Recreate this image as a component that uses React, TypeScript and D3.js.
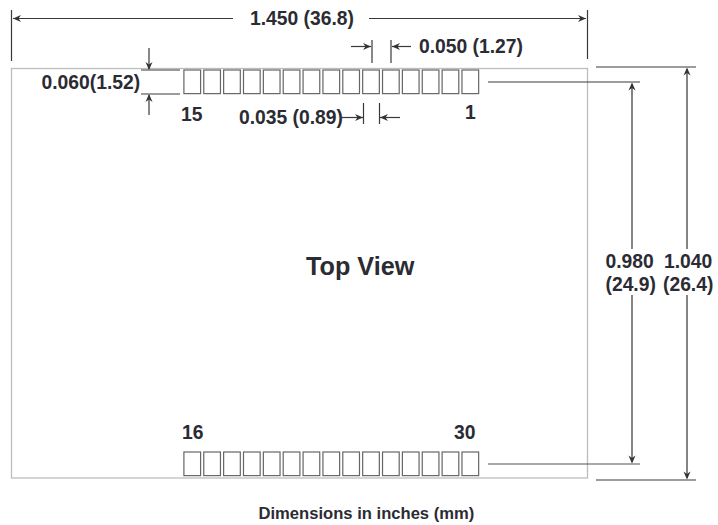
import React from "react";
import * as d3 from "d3";

// Physical values, in inches
const boardWidth = 1.45;
const boardHeight = 1.04;
const padPitch = 0.05;
const padWidth = 0.042;
const padHeight = 0.06;
const padCount = 15;
const firstPadOffset = 0.434;
const pinLabelsTop = ["15", "1"];
const pinLabelsBottom = ["16", "30"];
const widthLabel = "1.450 (36.8)";
const pitchLabel = "0.050 (1.27)";
const padWidthLabel = "0.035 (0.89)";
const padHeightLabel = "0.060(1.52)";
const innerLabel = ["0.980", "(24.9)"];
const outerLabel = ["1.040", "(26.4)"];
const title = "Top View";
const caption = "Dimensions in inches (mm)";

const INK = "#2b2b33";
const LINE = "#3a3a3a";
const VLINE = "#777777";

const x = d3.scaleLinear().domain([0, boardWidth]).range([11.5, 587.5]);
const y = d3.scaleLinear().domain([0, boardHeight]).range([68.5, 478]);
const padIdx = d3.range(padCount);

type P = [number, number];
const Arrow = ({ tip, dir, c = "#333" }: { tip: P; dir: "l" | "r" | "u" | "d"; c?: string }) => {
  const [a, b] = tip;
  const L = 8, W = 3.5;
  const pts =
    dir === "l" ? [[a, b], [a + L, b - W], [a + L - 2.5, b], [a + L, b + W]] :
    dir === "r" ? [[a, b], [a - L, b - W], [a - L + 2.5, b], [a - L, b + W]] :
    dir === "u" ? [[a, b], [a - W, b + L], [a, b + L - 2.5], [a + W, b + L]] :
    [[a, b], [a - W, b - L], [a, b - L + 2.5], [a + W, b - L]];
  return <polygon points={pts.map((p) => p.join(",")).join(" ")} fill={c} />;
};

const Seg = ({ x1, y1, x2, y2, c = LINE, w = 1.2 }: any) => (
  <line x1={x1} y1={y1} x2={x2} y2={y2} stroke={c} strokeWidth={w} />
);

const T = ({ x, y, s = 19.3, a = "start", children }: any) => (
  <text x={x} y={y} fontSize={s} textAnchor={a} fontWeight="bold" fill={INK} fontFamily="'Liberation Sans', Arial, sans-serif">
    {children}
  </text>
);

export default function App() {
  const padX = (i: number) => x(firstPadOffset + i * padPitch);
  const padW = x(padWidth) - x(0);
  const padH = y(padHeight) - y(0);
  const rows = [70, 452];
  return (
    <svg width={718} height={525} style={{ position: "absolute", left: 0, top: 0, background: "#fff" }}>
      <rect x={x(0)} y={y(0)} width={x(boardWidth) - x(0)} height={y(boardHeight) - y(0)} fill="none" stroke="#bdbdbd" strokeWidth={1.3} />
      {rows.map((ry) =>
        padIdx.map((i) => (
          <rect key={`${ry}-${i}`} x={padX(i)} y={ry} width={padW} height={padH} fill="#fff" stroke="#666" strokeWidth={1.2} />
        ))
      )}

      {/* overall width */}
      <Seg x1={11.5} y1={10} x2={11.5} y2={61} />
      <Seg x1={587.5} y1={10} x2={587.5} y2={59} />
      <Seg x1={13} y1={18.5} x2={233} y2={18.5} />
      <Seg x1={369} y1={18.5} x2={586} y2={18.5} />
      <Arrow tip={[13, 18.5]} dir="l" />
      <Arrow tip={[586, 18.5]} dir="r" />
      <T x={250} y={25}>{widthLabel}</T>

      {/* pitch */}
      <Seg x1={372} y1={40} x2={372} y2={63} />
      <Seg x1={391} y1={40} x2={391} y2={63} />
      <Seg x1={351} y1={46.5} x2={371} y2={46.5} />
      <Seg x1={392} y1={46.5} x2={411} y2={46.5} />
      <Arrow tip={[371, 46.5]} dir="r" />
      <Arrow tip={[392, 46.5]} dir="l" />
      <T x={419} y={53}>{pitchLabel}</T>

      {/* pad height */}
      <Seg x1={141} y1={70} x2={180} y2={70} />
      <Seg x1={141} y1={94} x2={180} y2={94} />
      <Seg x1={149} y1={48} x2={149} y2={69} />
      <Seg x1={149} y1={95} x2={149} y2={115} />
      <Arrow tip={[149, 70]} dir="d" />
      <Arrow tip={[149, 94]} dir="u" />
      <T x={41.5} y={88.5}>{padHeightLabel}</T>

      {/* pad width */}
      <Seg x1={363.5} y1={103} x2={363.5} y2={124} />
      <Seg x1={379.5} y1={103} x2={379.5} y2={124} />
      <Seg x1={342} y1={117.5} x2={363} y2={117.5} />
      <Seg x1={380} y1={117.5} x2={400} y2={117.5} />
      <Arrow tip={[363, 117.5]} dir="r" />
      <Arrow tip={[380, 117.5]} dir="l" />
      <T x={239} y={124}>{padWidthLabel}</T>

      {/* pin numbers */}
      <T x={181} y={120.5}>{pinLabelsTop[0]}</T>
      <T x={465} y={118.5}>{pinLabelsTop[1]}</T>
      <T x={182} y={438.5}>{pinLabelsBottom[0]}</T>
      <T x={454} y={438.5}>{pinLabelsBottom[1]}</T>

      {/* right-hand dimensions */}
      <Seg x1={488} y1={82} x2={640} y2={82} />
      <Seg x1={488} y1={464} x2={640} y2={464} c="#555" />
      <Seg x1={596} y1={67} x2={696} y2={67} />
      <Seg x1={596} y1={480} x2={696} y2={480} />
      <Seg x1={632} y1={84} x2={632} y2={249} c={VLINE} w={1.8} />
      <Seg x1={632} y1={295} x2={632} y2={462} c={VLINE} w={1.8} />
      <Seg x1={687} y1={69} x2={687} y2={249} c={VLINE} w={1.8} />
      <Seg x1={687} y1={295} x2={687} y2={478} c={VLINE} w={1.8} />
      <Arrow tip={[632, 82.5]} dir="u" />
      <Arrow tip={[632, 463.5]} dir="d" />
      <Arrow tip={[687, 67.5]} dir="u" />
      <Arrow tip={[687, 479.5]} dir="d" />
      <T x={605.5} y={268}>{innerLabel[0]}</T>
      <T x={605.5} y={291}>{innerLabel[1]}</T>
      <T x={664} y={268}>{outerLabel[0]}</T>
      <T x={663} y={291}>{outerLabel[1]}</T>

      <T x={306} y={274.5} s={25.2}>{title}</T>
      <T x={258.5} y={519} s={16.6}>{caption}</T>
    </svg>
  );
}
